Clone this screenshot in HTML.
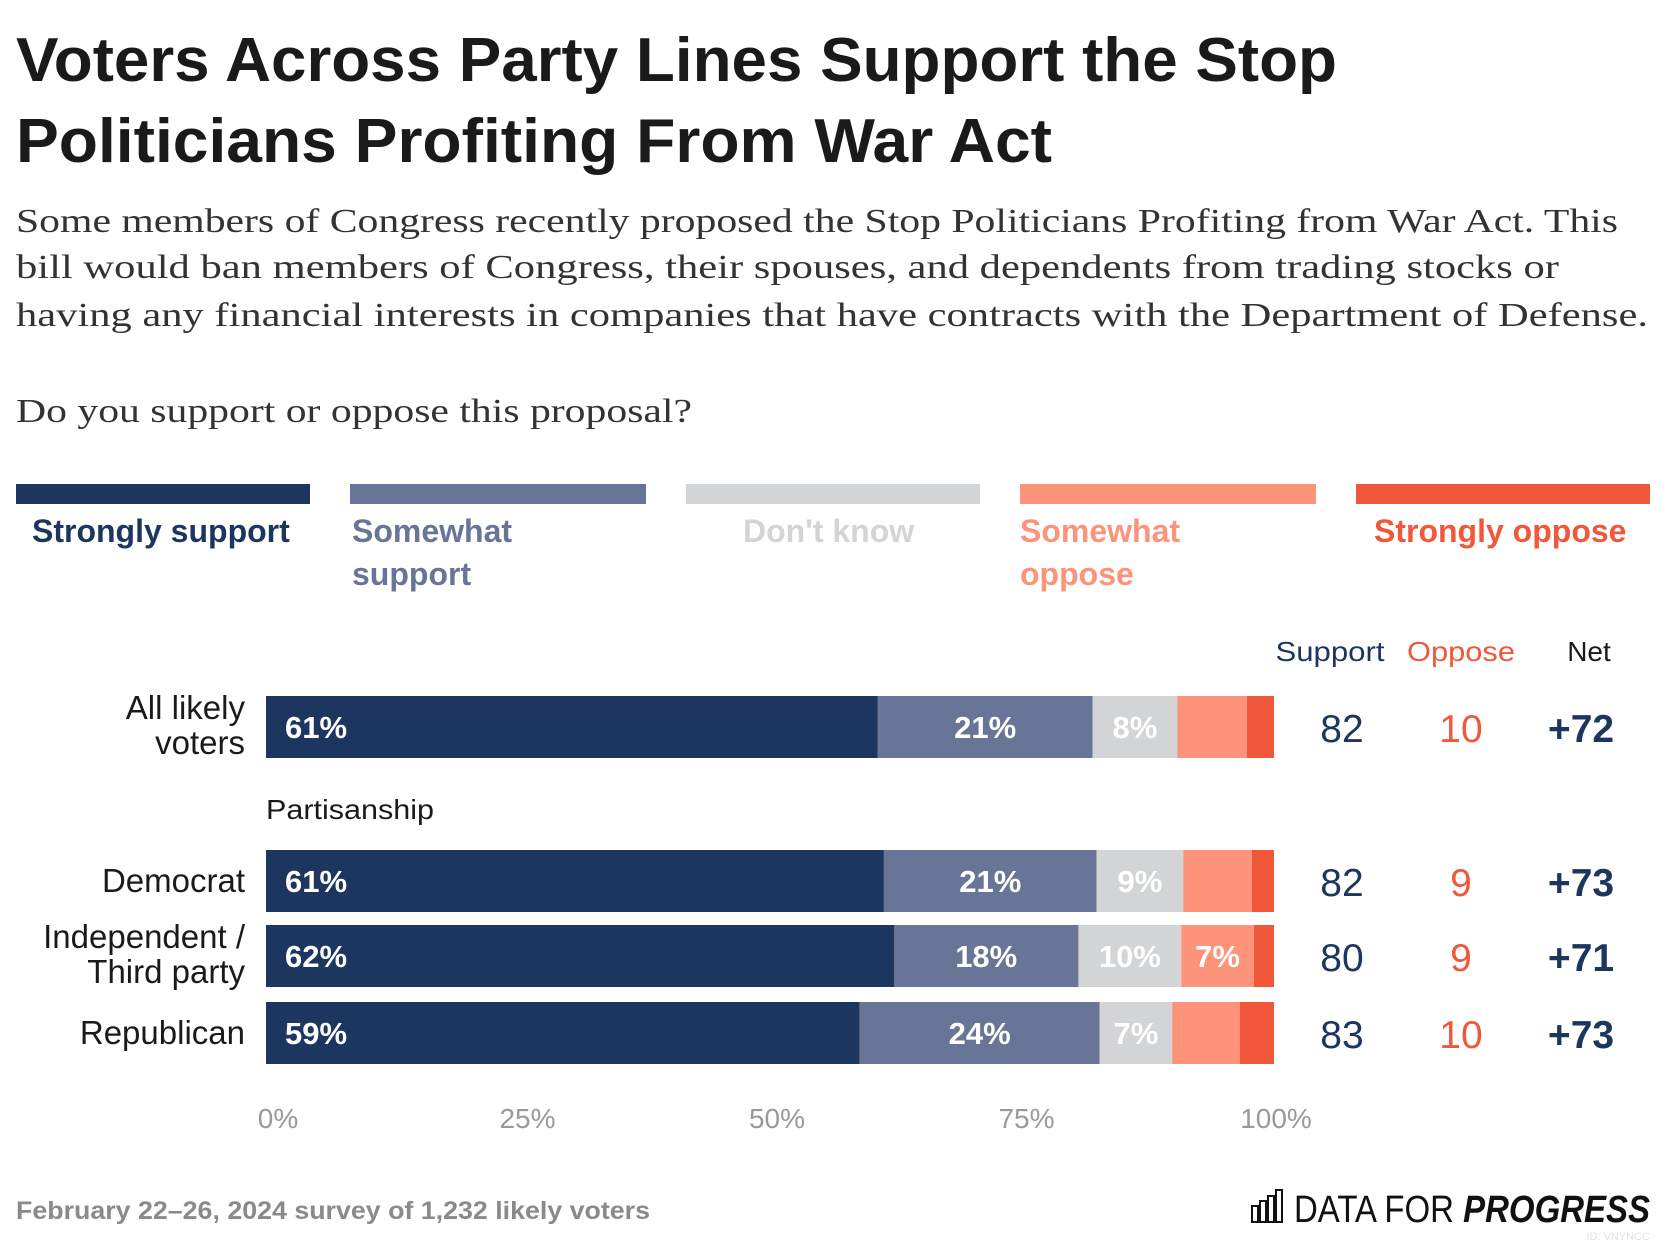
<!DOCTYPE html>
<html><head><meta charset="utf-8"><style>
html,body{margin:0;padding:0;background:#fff;}
svg{display:block;}
text{font-family:"Liberation Sans",sans-serif;}
.serif{font-family:"Liberation Serif",serif;}
</style></head><body>
<svg id="chart" width="1666" height="1242" viewBox="0 0 1666 1242" xmlns="http://www.w3.org/2000/svg">
<text x="16" y="81" font-size="62" font-weight="bold" fill="#1a1a1a" textLength="1321" lengthAdjust="spacingAndGlyphs">Voters Across Party Lines Support the Stop</text>
<text x="16" y="162" font-size="62" font-weight="bold" fill="#1a1a1a" textLength="1036" lengthAdjust="spacingAndGlyphs">Politicians Profiting From War Act</text>
<g fill="#333" font-size="34">
<text class="serif" x="16" y="232" textLength="1602" lengthAdjust="spacingAndGlyphs">Some members of Congress recently proposed the Stop Politicians Profiting from War Act. This</text>
<text class="serif" x="16" y="278" textLength="1543" lengthAdjust="spacingAndGlyphs">bill would ban members of Congress, their spouses, and dependents from trading stocks or</text>
<text class="serif" x="16" y="326" textLength="1632" lengthAdjust="spacingAndGlyphs">having any financial interests in companies that have contracts with the Department of Defense.</text>
<text class="serif" x="16" y="422" textLength="676" lengthAdjust="spacingAndGlyphs">Do you support or oppose this proposal?</text>
</g>
<g id="legend"></g>
<g font-size="28" text-anchor="middle">
<text x="1330" y="661" fill="#1c365f" textLength="109" lengthAdjust="spacingAndGlyphs">Support</text>
<text x="1461" y="661" fill="#f0573b" textLength="108" lengthAdjust="spacingAndGlyphs">Oppose</text>
<text x="1589" y="661" fill="#1a1a1a">Net</text>
</g>
<text x="266" y="819" font-size="28" fill="#1a1a1a" textLength="168" lengthAdjust="spacingAndGlyphs">Partisanship</text>
<g id="bars"></g>
<g id="axis"></g>
<text x="16" y="1219" font-size="25" font-weight="bold" fill="#8a8a8a" textLength="634" lengthAdjust="spacingAndGlyphs">February 22–26, 2024 survey of 1,232 likely voters</text>
<g>
<g fill="none" stroke="#111" stroke-width="2">
<rect x="1252" y="1206" width="6" height="16"/><rect x="1260" y="1201" width="6" height="21"/><rect x="1268" y="1196" width="6" height="26"/><rect x="1276" y="1190" width="6" height="32"/>
</g>
<text x="1294" y="1222" font-size="38" fill="#111" textLength="356" lengthAdjust="spacingAndGlyphs">DATA FOR <tspan font-weight="bold" font-style="italic">PROGRESS</tspan></text>
</g>
<text x="1650" y="1240" font-size="11" fill="#e2e2e2" text-anchor="end">ID: VNYNCC</text>
</svg>
<script>
const categories = ["Strongly support","Somewhat support","Don't know","Somewhat oppose","Strongly oppose"];
const rowLabels = [["All likely","voters"],["Democrat"],["Independent /","Third party"],["Republican"]];
const stronglySupport = [60.7,61.3,62.3,58.9];
const somewhatSupport = [21.3,21.1,18.3,23.8];
const dontKnow = [8.4,8.6,10.2,7.2];
const somewhatOppose = [6.9,6.8,7.2,6.7];
const stronglyOppose = [2.7,2.2,2.0,3.4];
const supportTotals = [82,82,80,83];
const opposeTotals = [10,9,9,10];
const netValues = ["+72","+73","+71","+73"];
const tickValues = [0,25,50,75,100];
const tickLabels = ["0%","25%","50%","75%","100%"];

const NS="http://www.w3.org/2000/svg";
const colors=["#1c365f","#687596","#d3d4d6","#fd937a","#f0573b"];
const x0=266,x1=1274;
const xScale=v=>x0+(x1-x0)*v/100;
const rowTop=[696,850,925,1002], barH=62;
function mk(tag,attrs,parent,text){const e=document.createElementNS(NS,tag);for(const k in attrs)e.setAttribute(k,attrs[k]);if(text!==undefined)e.textContent=text;parent.appendChild(e);return e;}

// legend
const lg=document.getElementById('legend');
const legX=[[16,310],[350,646],[686,980],[1020,1316],[1356,1650]];
const legTextX=[32,352,743,1020,1374];
const legLines=[["Strongly support"],["Somewhat","support"],["Don't know"],["Somewhat","oppose"],["Strongly oppose"]];
categories.forEach((c,i)=>{
  const r=mk('rect',{x:legX[i][0],y:484,width:legX[i][1]-legX[i][0],height:20,fill:colors[i]},lg);
  
  
  legLines[i].forEach((ln,j)=>{
    const t=mk('text',{x:legTextX[i],y:542+j*43,'font-size':32,'font-weight':'bold',fill:colors[i]},lg,ln);
    
    
  });
});

// bars
const bg=document.getElementById('bars');
const series=[stronglySupport,somewhatSupport,dontKnow,somewhatOppose,stronglyOppose];
rowLabels.forEach((lab,r)=>{
  const top=rowTop[r];
  const lines=lab.length;
  lab.forEach((ln,j)=>{
    const y = lines===1 ? top+barH/2+11 : top+23+j*35;
    const t=mk('text',{x:245,y:y,'font-size':33,fill:'#1a1a1a','text-anchor':'end'},bg,ln);
    
    
  });
  const total=series.reduce((s,a)=>s+a[r],0);
  let cum=0;
  series.forEach((arr,i)=>{
    const v=arr[r];
    const xa=xScale(cum/total*100), xb=xScale((cum+v)/total*100);
    const rect=mk('rect',{x:xa,y:top,width:xb-xa,height:barH,fill:colors[i]},bg);
    
    
    if(v>=7){
      const cx = i===0 ? xa+19 : (xa+xb)/2;
      const t=mk('text',{x:cx,y:top+barH/2+11,'font-size':31,'font-weight':'bold',fill:'#fff','text-anchor':i===0?'start':'middle'},bg,Math.round(v)+'%');
      
      
    }
    cum+=v;
  });
  const cy=top+barH/2+15;
  const s=mk('text',{x:1342,y:cy,'font-size':39,fill:'#1c365f','text-anchor':'middle'},bg,supportTotals[r]);
  
  
  const o=mk('text',{x:1461,y:cy,'font-size':39,fill:'#f0573b','text-anchor':'middle'},bg,opposeTotals[r]);
  
  
  const n=mk('text',{x:1581,y:cy,'font-size':39,'font-weight':'bold',fill:'#1c365f','text-anchor':'middle'},bg,netValues[r]);
  
  
});

// axis
const ax=document.getElementById('axis');
tickValues.forEach((v,i)=>{
  const t=mk('text',{x:xScale(v)+12-v*0.1,y:1128,'font-size':28,fill:'#999','text-anchor':'middle'},ax,tickLabels[i]);
  
  
});
</script>
</body></html>
